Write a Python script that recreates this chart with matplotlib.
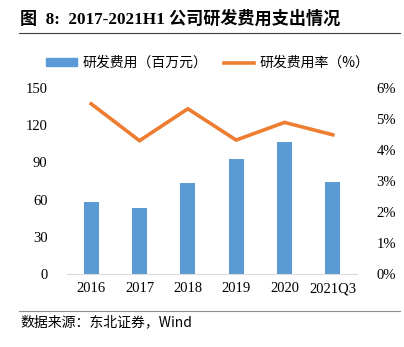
import numpy as np
import matplotlib
matplotlib.use("Agg")
import matplotlib.pyplot as plt
from matplotlib.lines import Line2D
from matplotlib.patches import Patch
from matplotlib.ticker import FuncFormatter

# ── data ─────────────────────────────────────────────────────────────────────
years   = ["2016", "2017", "2018", "2019", "2020", "2021Q3"]
rd_cost = [58.0, 53.0, 73.0, 92.7, 106.7, 74.5]     # 百万元
rd_rate = [5.49, 4.30, 5.33, 4.32, 4.89, 4.49]      # %

BLUE   = "#5B9BD5"
ORANGE = "#ED7D31"
MIXED  = ["Liberation Serif", "Noto Sans CJK SC"]
CJK    = ["Noto Sans CJK SC", "Liberation Serif"]

W, H = 404, 347
fig = plt.figure(figsize=(W / 100, H / 100), dpi=100)

# axes in pixel coords: x 67..357, y 88..274 (top-origin)
ax = fig.add_axes([67 / W, 1 - 274 / H, (357 - 67) / W, (274 - 88) / H])
ax2 = ax.twinx()

x = np.arange(len(years))
ax.bar(x, rd_cost, width=0.31, color=BLUE, zorder=2)
ax2.plot(x, rd_rate, color=ORANGE, lw=2.6, solid_joinstyle="miter", zorder=3)

ax.set_xlim(-0.5, len(years) - 0.5)
ax.set_ylim(0, 150)
ax.set_yticks(np.arange(0, 151, 30))
ax2.set_ylim(0, 6)
ax2.set_yticks(np.arange(0, 7, 1))
ax2.yaxis.set_major_formatter(FuncFormatter(lambda v, _: f"{v:.0f}%"))

ax.set_xticks(x)
ax.set_xticklabels(years)

for a in (ax, ax2):
    for s in a.spines.values():
        s.set_visible(False)
    a.tick_params(length=0, labelsize=10.5)
    for lab in a.get_xticklabels() + a.get_yticklabels():
        lab.set_family("Liberation Serif")
ax.spines["bottom"].set_visible(True)
ax.spines["bottom"].set_color("#d9d9d9")
ax.tick_params(axis="y", pad=14)
ax.tick_params(axis="x", pad=6)
ax2.tick_params(axis="y", pad=14)

# title
fig.text(20 / W, 1 - 19 / H, "图  8:  2017-2021H1 公司研发费用支出情况",
         family=MIXED, fontsize=12.3, fontweight="bold", va="center", ha="left")
fig.add_artist(Line2D([19 / W, 400 / W], [1 - 33 / H, 1 - 33 / H],
                      color="#404040", lw=0.8))

# legend
handles = [Patch(color=BLUE), Line2D([0], [0], color=ORANGE, lw=2.6)]
fig.legend(handles, ["研发费用（百万元）", "研发费用率（%）"],
           loc="center", bbox_to_anchor=(0.515, 1 - 63 / H), ncol=2, frameon=False,
           prop={"family": CJK, "size": 10}, handlelength=2.2, handleheight=0.45,
           columnspacing=1.2, handletextpad=0.4)

# source
fig.add_artist(Line2D([19 / W, 400 / W], [1 - 311 / H, 1 - 311 / H],
                      color="#909090", lw=0.8))
fig.text(20 / W, 1 - 322 / H, "数据来源：东北证券，Wind",
         family=CJK, fontsize=10, va="center", ha="left")

fig.savefig("out.png", dpi=100)
